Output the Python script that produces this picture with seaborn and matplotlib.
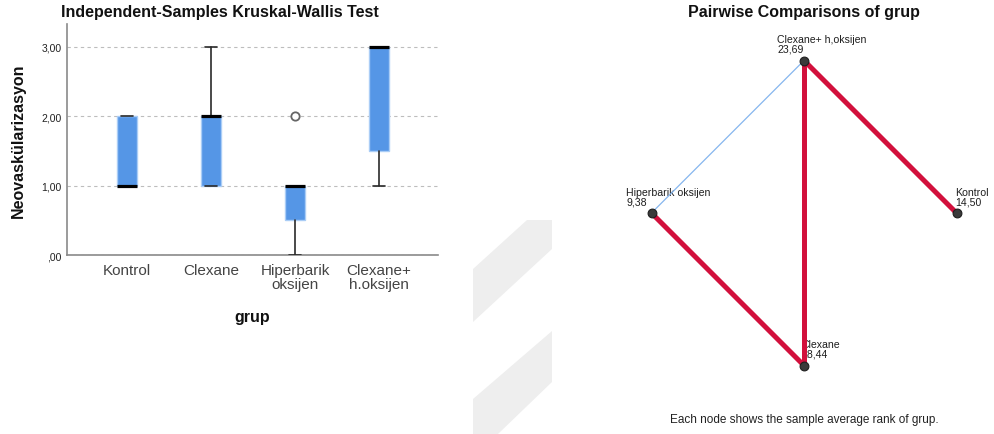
import numpy as np
import pandas as pd
import matplotlib
matplotlib.use("Agg")
import matplotlib.pyplot as plt
import seaborn as sns
from matplotlib.patches import Polygon

# ---------------- data ----------------
group_labels = ["Kontrol", "Clexane", "Hiperbarik\noksijen", "Clexane+\nh.oksijen"]
kontrol = [1, 1, 1, 1, 1, 2, 2, 2]
clexane = [1, 1, 1, 2, 2, 2, 2, 3]
hiperbarik = [0, 0, 1, 1, 1, 1, 1, 2]
clexane_hok = [1, 1, 2, 3, 3, 3, 3, 3]
y_ticks = [0, 1, 2, 3]
y_ticklabels = [",00", "1,00", "2,00", "3,00"]

node_names = ["Clexane+ h.oksijen", "Hiperbarik oksijen", "Clexane", "Kontrol"]
mean_ranks = [23.69, 9.38, 18.44, 14.50]
edge_from = [0, 0, 1, 1]
edge_to = [3, 2, 2, 0]
edge_significant = [True, True, True, False]

# ---------------- style ----------------
sns.set_theme(style="white")
plt.rcParams["font.family"] = ["Liberation Sans", "DejaVu Sans"]

W, H = 994, 435
fig = plt.figure(figsize=(W / 100, H / 100), dpi=100)


def fx(px):
    return px / W


def fy(py):
    return 1 - py / H


# watermark stripes (decorative)
for pts in ([(473, 270), (527, 221), (552, 221), (552, 250), (473, 323)],
            [(473, 400), (552, 332), (552, 383), (498, 435), (473, 435)]):
    fig.patches.append(Polygon([(fx(a), fy(b)) for a, b in pts], closed=True,
                               transform=fig.transFigure, facecolor="#eeeeee",
                               edgecolor="none", zorder=0))

# ---------------- left: boxplot ----------------
ax = fig.add_axes([fx(67), fy(256), fx(438) - fx(67), fy(25) - fy(256)])


def tukey_stats(vals):
    x = np.sort(np.asarray(vals, dtype=float))
    n = len(x)
    med = np.median(x)
    q1 = np.median(x[:(n + 1) // 2])
    q3 = np.median(x[n // 2:])
    iqr = q3 - q1
    lo, hi = q1 - 1.5 * iqr, q3 + 1.5 * iqr
    return dict(med=med, q1=q1, q3=q3,
                whislo=x[x >= lo].min(), whishi=x[x <= hi].max(),
                fliers=x[(x < lo) | (x > hi)])


stats = [tukey_stats(v) for v in (kontrol, clexane, hiperbarik, clexane_hok)]
ax.bxp(stats, positions=range(len(stats)), widths=0.24, capwidths=0.14,
       patch_artist=True,
       boxprops=dict(facecolor="#5596e6", edgecolor="#aacdf6", linewidth=1.0),
       medianprops=dict(color="black", linewidth=2.3, solid_capstyle="butt"),
       whiskerprops=dict(color="#2a2a2a", linewidth=1.2),
       capprops=dict(color="#2a2a2a", linewidth=1.2),
       flierprops=dict(marker="o", markerfacecolor="white", markeredgecolor="#666666",
                       markersize=6, markeredgewidth=1.3),
       zorder=3)

ax.set_xlim(-0.714, 3.70)
ax.set_ylim(0, 3.327)
ax.set_yticks(y_ticks)
ax.set_yticklabels(y_ticklabels)
ax.set_xticks(range(len(group_labels)))
ax.set_xticklabels(group_labels, linespacing=1.0)
ax.tick_params(axis="y", length=0, pad=4, labelsize=7.5, labelcolor="#222222")
ax.tick_params(axis="x", length=0, pad=6, labelsize=11, labelcolor="#444444")
ax.grid(axis="y", linestyle=(0, (3, 3)), color="#bdbdbd", linewidth=0.8, zorder=0)
ax.set_axisbelow(True)
for s in ("top", "right"):
    ax.spines[s].set_visible(False)
for s in ("left", "bottom"):
    ax.spines[s].set_color("#8a8a8a")
    ax.spines[s].set_linewidth(1.2)
ax.set_xlabel("grup", fontsize=11.5, fontweight="bold", labelpad=13, color="#111111")
ax.set_ylabel("Neovaskülarizasyon", fontsize=11.5, fontweight="bold", labelpad=11,
              color="#111111")

fig.text(fx(220), fy(12), "Independent-Samples Kruskal-Wallis Test", ha="center",
         va="center", fontsize=11.5, fontweight="bold", color="#111111")

# ---------------- right: pairwise network ----------------
cx, cy, R = 804, 214, 152.5
ax2 = fig.add_axes([fx(600), fy(400), fx(994) - fx(600), fy(30) - fy(400)])
ax2.set_xlim((600 - cx) / R, (994 - cx) / R)
ax2.set_ylim((cy - 400) / R, (cy - 30) / R)

angles = np.deg2rad(90 + 90 * np.arange(len(node_names)))
nx, ny = np.cos(angles), np.sin(angles)

rows = []
for k, (a, b, sig) in enumerate(zip(edge_from, edge_to, edge_significant)):
    rows.append(dict(edge=k, x=nx[a], y=ny[a], sig=sig))
    rows.append(dict(edge=k, x=nx[b], y=ny[b], sig=sig))
edf = pd.DataFrame(rows)

sns.lineplot(data=edf[~edf.sig], x="x", y="y", units="edge", estimator=None,
             sort=False, color="#86b6ee", linewidth=0.9, ax=ax2, zorder=2)
sns.lineplot(data=edf[edf.sig], x="x", y="y", units="edge", estimator=None,
             sort=False, color="#d2103c", linewidth=3.6, ax=ax2, zorder=3,
             solid_capstyle="round")
sns.scatterplot(x=nx, y=ny, s=40, color="#3a3a3a", edgecolor="#1e1e1e",
                linewidth=0.8, ax=ax2, zorder=5)

label_dx = [-27, -25, -3, -1]  # px offsets of node labels
for i, (name, r) in enumerate(zip(node_names, mean_ranks)):
    ax2.annotate(f"{name}\n{r:.2f}".replace(".", ","), xy=(nx[i], ny[i]),
                 xytext=(label_dx[i] * 0.72, 5), textcoords="offset points",
                 ha="left", va="bottom", fontsize=7.6, linespacing=0.92,
                 color="#1e1e1e", zorder=1)

ax2.set_xlim((600 - cx) / R, (994 - cx) / R)
ax2.set_ylim((cy - 400) / R, (cy - 30) / R)
ax2.set_axis_off()

fig.text(fx(804), fy(12), "Pairwise Comparisons of grup", ha="center", va="center",
         fontsize=11.5, fontweight="bold", color="#111111")
fig.text(fx(804), fy(420), "Each node shows the sample average rank of grup.",
         ha="center", va="center", fontsize=8.5, color="#222222")

fig.savefig("out.png", dpi=100)
